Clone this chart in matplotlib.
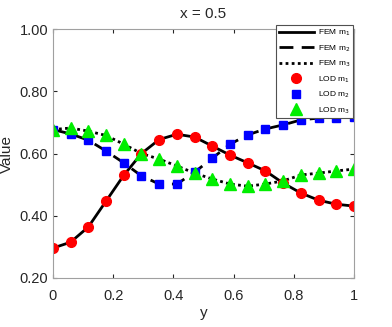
import matplotlib
matplotlib.use("Agg")
import matplotlib.pyplot as plt

plt.rcParams['font.family'] = ['Liberation Sans', 'DejaVu Sans']

# y-nodes (18 equally spaced points on [0, 1])
y_nodes = [k / 17 for k in range(18)]

m1 = [0.296, 0.315, 0.364, 0.447, 0.530, 0.600, 0.645, 0.662, 0.653, 0.624,
      0.595, 0.570, 0.544, 0.505, 0.473, 0.450, 0.437, 0.431]
m2 = [0.677, 0.663, 0.643, 0.608, 0.570, 0.528, 0.502, 0.502, 0.540, 0.585,
      0.630, 0.660, 0.679, 0.692, 0.708, 0.714, 0.715, 0.717]
m3 = [0.677, 0.682, 0.672, 0.658, 0.630, 0.600, 0.582, 0.560, 0.537, 0.518,
      0.502, 0.495, 0.502, 0.512, 0.531, 0.537, 0.544, 0.550]

fig = plt.figure(figsize=(3.92, 3.27), dpi=100)
ax = fig.add_axes([0.135, 0.15, 0.768, 0.761])

ax.plot(y_nodes, m1, 'k-', lw=2, label='FEM m$_1$')
ax.plot(y_nodes, m2, 'k--', lw=2, dashes=(5, 3), label='FEM m$_2$')
ax.plot(y_nodes, m3, 'k:', lw=2, dashes=(1, 1.2), label='FEM m$_3$')
ax.plot(y_nodes, m1, 'o', color='red', ms=7, ls='none', label='LOD m$_1$')
ax.plot(y_nodes, m2, 's', color='blue', ms=5.2, ls='none', label='LOD m$_2$')
ax.plot(y_nodes, m3, '^', color='#00ee00', ms=8, ls='none', label='LOD m$_3$')

ax.set_xlim(0, 1)
ax.set_ylim(0.2, 1.0)
ax.set_xticks([0, 0.2, 0.4, 0.6, 0.8, 1])
ax.set_xticklabels(['0', '0.2', '0.4', '0.6', '0.8', '1'])
ax.set_yticks([0.2, 0.4, 0.6, 0.8, 1.0])
ax.set_yticklabels(['0.20', '0.40', '0.60', '0.80', '1.00'])
ax.tick_params(direction='in', top=True, right=True, labelsize=10.5,
               color='#262626', length=3, labelcolor='#262626')
ax.tick_params(axis='x', pad=8)
for s in ax.spines.values():
    s.set_color('#a0a0a0')

ax.set_title('x = 0.5', fontsize=11, color='#262626', pad=8)
ax.set_xlabel('y', fontsize=11, color='#262626', labelpad=2)
ax.set_ylabel('Value', fontsize=11, color='#262626', labelpad=4)

leg = ax.legend(loc='upper right', bbox_to_anchor=(0.998, 1.018), fontsize=6,
                frameon=True, fancybox=False, framealpha=1, edgecolor='#505050',
                borderaxespad=0, handlelength=4.2, labelspacing=0.6,
                borderpad=0.35, handletextpad=0.5)
leg.get_frame().set_linewidth(0.8)
leg.set_zorder(5)

fig.savefig('out.png', dpi=100)
